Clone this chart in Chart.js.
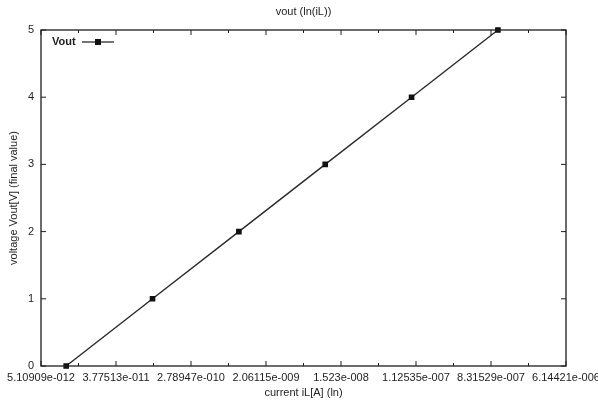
<!DOCTYPE html>
<html>
<head>
<meta charset="utf-8">
<script src="https://cdn.jsdelivr.net/npm/chart.js@4"></script>
<style>
    html, body { margin: 0; padding: 0; background: #fff; }
    #wrap { width: 598px; height: 404px; }
</style>
</head>
<body>
<div id="wrap"><canvas id="voutChart"></canvas></div>
<script>

    // current iL [A] and final Vout [V]
    const currents = [1e-11, 1e-10, 1e-9, 1e-8, 1e-7, 1e-6];
    const vout = [0, 1, 2, 3, 4, 5];
    // x ticks at e^n, labelled every second one
    const lnTicks = [-26, -25, -24, -23, -22, -21, -20, -19, -18, -17, -16, -15, -14, -13, -12];
    const yTicks = [0, 1, 2, 3, 4, 5];

    const ink = "#1e1e1e";
    const font = "Liberation Sans, Arial, sans-serif";

    // gnuplot style %g with 3 digit exponent
    function gfmt(v) {
        let s = v.toExponential(5);
        let [m, e] = s.split("e");
        m = m.replace(/0+$/, "").replace(/\.$/, "");
        const sign = e[0] === "-" ? "-" : "+";
        e = e.replace(/^[-+]/, "").padStart(3, "0");
        return m + "e" + (sign === "-" ? "-" : "+") + e;
    }

    const frame = {
        id: "frame",
        afterDatasetsDraw(c) {
            const { ctx, chartArea: a, scales } = c;
            ctx.save();
            ctx.strokeStyle = ink;
            ctx.lineWidth = 1.3;
            ctx.strokeRect(a.left, a.top, a.right - a.left, a.bottom - a.top);
            ctx.lineWidth = 1;
            ctx.beginPath();
            lnTicks.forEach(n => {
                const x = scales.x.getPixelForValue(Math.exp(n));
                const len = n % 2 === 0 ? 5 : 3;
                ctx.moveTo(x, a.bottom); ctx.lineTo(x, a.bottom - len);
                ctx.moveTo(x, a.top); ctx.lineTo(x, a.top + len);
            });
            yTicks.forEach(v => {
                const y = scales.y.getPixelForValue(v);
                ctx.moveTo(a.left, y); ctx.lineTo(a.left + 5, y);
                ctx.moveTo(a.right, y); ctx.lineTo(a.right - 5, y);
            });
            ctx.stroke();

            // titles
            ctx.fillStyle = ink;
            ctx.font = "11px " + font;
            ctx.textAlign = "center";
            ctx.textBaseline = "middle";
            const cx = (a.left + a.right) / 2;
            ctx.fillText("vout (ln(iL))", cx, 12);
            ctx.fillText("current iL[A] (ln)", cx, 393);
            ctx.save();
            ctx.translate(14, (a.top + a.bottom) / 2);
            ctx.rotate(-Math.PI / 2);
            ctx.fillText("voltage Vout[V] (final value)", 0, 0);
            ctx.restore();

            // legend
            const ds = c.data.datasets[0];
            ctx.textAlign = "left";
            ctx.font = "bold 11px " + font;
            ctx.fillText(ds.label, 52, 42);
            ctx.strokeStyle = ds.borderColor;
            ctx.lineWidth = 1.3;
            ctx.beginPath();
            ctx.moveTo(82, 42); ctx.lineTo(114, 42);
            ctx.stroke();
            ctx.fillStyle = ds.pointBackgroundColor;
            ctx.fillRect(95, 39, 6, 6);
            ctx.restore();
        }
    };

    new Chart(document.getElementById("voutChart"), {
        type: "line",
        data: {
            datasets: [{
                label: "Vout",
                data: currents.map((x, i) => ({ x: x, y: vout[i] })),
                borderColor: "#2a2a2a",
                borderWidth: 1.4,
                pointStyle: "rect",
                pointRadius: 3,
                pointBackgroundColor: "#111",
                pointBorderColor: "#111",
                tension: 0,
                clip: false
            }]
        },
        options: {
            responsive: true,
            maintainAspectRatio: false,
            animation: false,
            layout: { padding: { top: 30, right: 32, left: 0, bottom: 0 } },
            plugins: {
                legend: { display: false },
                tooltip: { enabled: false }
            },
            scales: {
                x: {
                    type: "logarithmic",
                    min: Math.exp(-26),
                    max: Math.exp(-12),
                    afterBuildTicks(s) {
                        s.ticks = lnTicks.map(n => ({ value: Math.exp(n), major: n % 2 === 0 }));
                    },
                    afterFit(s) {
                        s.height = 38;
                        s.paddingLeft = 0;
                        s.paddingRight = 0;
                    },
                    grid: { display: false, drawTicks: false },
                    border: { display: false },
                    ticks: {
                        autoSkip: false,
                        maxRotation: 0,
                        padding: 5,
                        color: ink,
                        font: { family: font, size: 11 },
                        callback(v, i) {
                            return lnTicks[i] % 2 === 0 ? gfmt(v) : "";
                        }
                    }
                },
                y: {
                    min: 0,
                    max: 5,
                    afterBuildTicks(s) {
                        s.ticks = yTicks.map(v => ({ value: v }));
                    },
                    afterFit(s) {
                        s.width = 41;
                        s.paddingTop = 0;
                        s.paddingBottom = 0;
                    },
                    grid: { display: false, drawTicks: false },
                    border: { display: false },
                    ticks: {
                        padding: 7,
                        color: ink,
                        font: { family: font, size: 11 }
                    }
                }
            }
        },
        plugins: [frame]
    });

</script>
</body>
</html>
